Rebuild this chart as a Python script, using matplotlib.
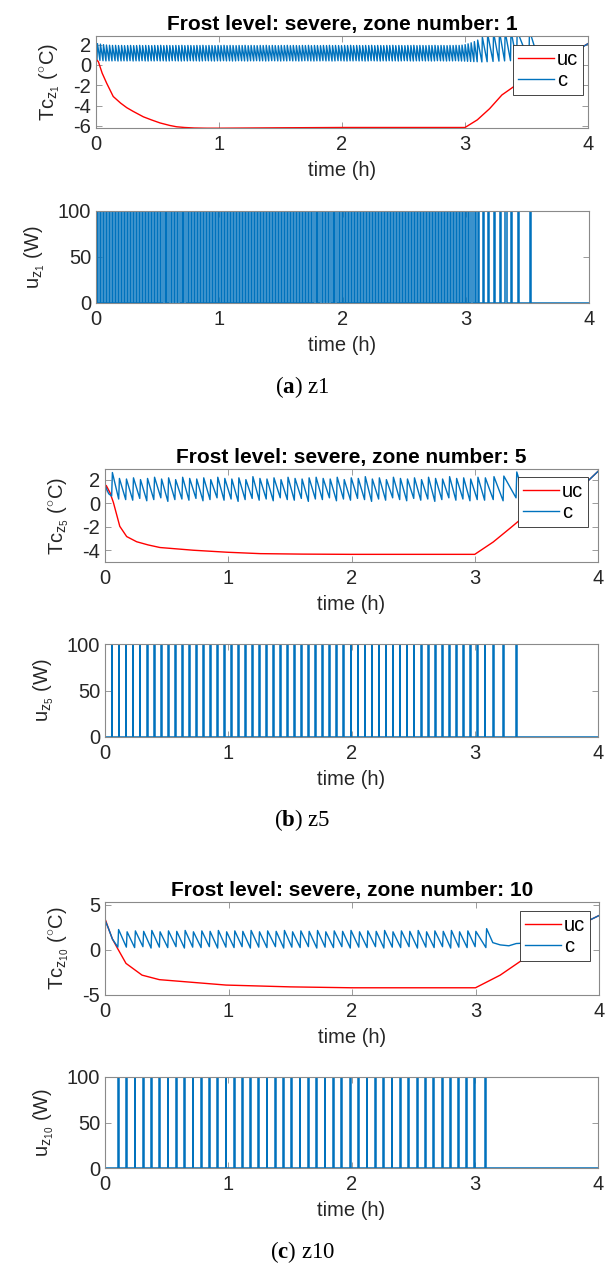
import matplotlib
matplotlib.use('Agg')
import matplotlib.pyplot as plt

plt.rcParams['font.family'] = ['Liberation Sans', 'DejaVu Sans']
plt.rcParams['axes.unicode_minus'] = False
plt.rcParams['mathtext.fontset'] = 'custom'
plt.rcParams['mathtext.rm'] = 'Liberation Sans'
plt.rcParams['mathtext.it'] = 'Liberation Sans:italic'
plt.rcParams['mathtext.bf'] = 'Liberation Serif:bold'

# ---------------- data ----------------
zones = [1, 5, 10]
captions = ['a', 'b', 'c']
x_ticks = [0, 1, 2, 3, 4]
temp_ylim = [(-6.2, 2.85), (-5.0, 2.9), (-5.0, 5.3)]
temp_yticks = [[-6, -4, -2, 0, 2], [-4, -2, 0, 2], [-5, 0, 5]]
u_yticks = [0, 50, 100]

# uncontrolled temperature (uc)
uc1_t = [0, 0.02, 0.05, 0.087, 0.14, 0.2, 0.25, 0.3, 0.385, 0.45, 0.52, 0.6, 0.655, 0.72, 0.8, 0.9, 1.0, 1.5,
         2.0, 2.5, 3.0, 3.1, 3.2, 3.3, 3.4, 3.5, 3.6, 3.7, 3.8, 3.9, 4.0]
uc1_v = [0.6, 0.3, -0.8, -1.8, -3.1, -3.75, -4.2, -4.55, -5.1, -5.4, -5.7, -5.95, -6.08, -6.15, -6.2, -6.22, -6.22,
         -6.18, -6.15, -6.15, -6.15, -5.4, -4.3, -2.95, -2.1, -1.4, -0.7, 0.0, 0.7, 1.4, 2.1]
uc5_t = [0, 0.01, 0.04, 0.068, 0.12, 0.176, 0.257, 0.35, 0.446, 0.716, 0.99, 1.26, 1.6, 2.0, 2.5, 3.0, 3.15,
         3.29, 3.37, 3.5, 3.6, 3.7, 3.8, 3.92, 4.0]
uc5_v = [0.6, 1.5, 0.9, 0.06, -1.97, -2.84, -3.28, -3.55, -3.77, -4.0, -4.17, -4.29, -4.33, -4.35, -4.35, -4.35,
         -3.3, -2.1, -1.4, -0.6, -0.1, 0.5, 1.1, 1.9, 2.7]
uc10_t = [0, 0.004, 0.03, 0.06, 0.10, 0.17, 0.30, 0.44, 0.71, 0.98, 1.5, 2.0, 2.5, 3.0, 3.1, 3.2, 3.36, 3.5,
          3.65, 3.8, 3.91, 4.0]
uc10_v = [-0.9, 3.3, 2.3, 1.2, 0.2, -1.5, -2.8, -3.3, -3.6, -3.9, -4.1, -4.2, -4.2, -4.2, -3.5, -2.8, -1.3, 0.0,
          1.2, 2.4, 3.2, 3.8]

# heater switch-on times (h)
pulse1 = [0.008, 0.032, 0.057, 0.081, 0.106, 0.130, 0.155, 0.179, 0.204, 0.228,
          0.253, 0.277, 0.302, 0.326, 0.351, 0.375, 0.400, 0.424, 0.449, 0.473,
          0.498, 0.522, 0.547, 0.571, 0.596, 0.620, 0.645, 0.669, 0.694, 0.718,
          0.743, 0.767, 0.792, 0.816, 0.841, 0.865, 0.890, 0.914, 0.939, 0.963,
          0.988, 1.012, 1.037, 1.061, 1.086, 1.110, 1.135, 1.159, 1.184, 1.208,
          1.233, 1.257, 1.282, 1.306, 1.331, 1.355, 1.380, 1.404, 1.429, 1.453,
          1.478, 1.502, 1.527, 1.551, 1.576, 1.600, 1.625, 1.649, 1.674, 1.698,
          1.723, 1.747, 1.772, 1.796, 1.821, 1.845, 1.870, 1.894, 1.919, 1.943,
          1.968, 1.992, 2.017, 2.041, 2.066, 2.090, 2.115, 2.139, 2.164, 2.188,
          2.213, 2.237, 2.262, 2.286, 2.311, 2.335, 2.360, 2.384, 2.409, 2.433,
          2.458, 2.482, 2.507, 2.531, 2.556, 2.580, 2.605, 2.629, 2.654, 2.678,
          2.703, 2.727, 2.752, 2.776, 2.801, 2.825, 2.850, 2.874, 2.899, 2.923,
          2.948, 2.972, 2.997, 3.021, 3.046, 3.072, 3.099,
          3.137, 3.180, 3.228, 3.276, 3.322, 3.370, 3.420, 3.520]
pulse5 = [0.054, 0.111, 0.168, 0.225, 0.282, 0.339, 0.396, 0.453, 0.510, 0.567,
          0.624, 0.681, 0.738, 0.795, 0.852, 0.909, 0.966, 1.023, 1.080, 1.137,
          1.194, 1.251, 1.308, 1.365, 1.422, 1.479, 1.536, 1.593, 1.650, 1.707,
          1.764, 1.821, 1.878, 1.935, 1.992, 2.049, 2.106, 2.163, 2.220, 2.277,
          2.334, 2.391, 2.448, 2.505, 2.562, 2.619, 2.676, 2.733, 2.790, 2.847,
          2.904, 2.961, 3.020, 3.080, 3.150, 3.230, 3.335]
pulse10 = [0.104, 0.173, 0.240, 0.307, 0.373, 0.440, 0.508, 0.575, 0.643, 0.710,
           0.778, 0.845, 0.912, 0.979, 1.045, 1.110, 1.177, 1.245, 1.311, 1.380,
           1.447, 1.513, 1.580, 1.647, 1.715, 1.782, 1.850, 1.918, 1.986, 2.055,
           2.122, 2.190, 2.258, 2.326, 2.394, 2.462, 2.530, 2.598, 2.665, 2.733,
           2.799, 2.865, 2.932, 2.997, 3.084]

# controlled temperature (c): value at switch-on (trough) and at switch-off (peak)
trough1 = [0.55, 0.45, 0.42, 0.40, 0.41, 0.40, 0.42, 0.39, 0.40, 0.41,
           0.40, 0.42, 0.39, 0.41, 0.40, 0.42, 0.40, 0.39, 0.41, 0.40,
           0.42, 0.40, 0.41, 0.39, 0.40, 0.42, 0.41, 0.40, 0.39, 0.41,
           0.40, 0.42, 0.40, 0.41, 0.39, 0.40, 0.42, 0.41, 0.40, 0.39,
           0.41, 0.40, 0.42, 0.40, 0.41, 0.39, 0.40, 0.42, 0.41, 0.40,
           0.39, 0.41, 0.40, 0.42, 0.40, 0.41, 0.39, 0.40, 0.42, 0.41,
           0.40, 0.39, 0.41, 0.40, 0.42, 0.40, 0.41, 0.39, 0.40, 0.42,
           0.41, 0.40, 0.39, 0.41, 0.40, 0.42, 0.40, 0.41, 0.39, 0.40,
           0.42, 0.41, 0.40, 0.39, 0.41, 0.40, 0.42, 0.40, 0.41, 0.39,
           0.40, 0.42, 0.41, 0.40, 0.39, 0.41, 0.40, 0.42, 0.40, 0.41,
           0.39, 0.40, 0.42, 0.41, 0.40, 0.39, 0.41, 0.40, 0.42, 0.40,
           0.41, 0.39, 0.40, 0.42, 0.41, 0.40, 0.39, 0.41, 0.40, 0.42,
           0.40, 0.39, 0.38, 0.36, 0.35, 0.33, 0.32,
           0.30, 0.32, 0.35, 0.38, 0.40, 0.42, 0.45, 0.40]
peak1 = [2.10, 2.05, 2.00, 1.96, 1.94, 1.92, 1.93, 1.91, 1.92, 1.90,
         1.91, 1.92, 1.90, 1.91, 1.93, 1.90, 1.92, 1.91, 1.90, 1.92,
         1.91, 1.93, 1.90, 1.92, 1.91, 1.90, 1.92, 1.91, 1.93, 1.90,
         1.92, 1.91, 1.90, 1.92, 1.91, 1.93, 1.90, 1.92, 1.91, 1.90,
         1.92, 1.91, 1.93, 1.90, 1.92, 1.91, 1.90, 1.92, 1.91, 1.93,
         1.90, 1.92, 1.91, 1.90, 1.92, 1.91, 1.93, 1.90, 1.92, 1.91,
         1.90, 1.92, 1.91, 1.93, 1.90, 1.92, 1.91, 1.90, 1.92, 1.91,
         1.93, 1.90, 1.92, 1.91, 1.90, 1.92, 1.91, 1.93, 1.90, 1.92,
         1.91, 1.90, 1.92, 1.91, 1.93, 1.90, 1.92, 1.91, 1.90, 1.92,
         1.91, 1.93, 1.90, 1.92, 1.91, 1.90, 1.92, 1.91, 1.93, 1.90,
         1.92, 1.91, 1.90, 1.92, 1.91, 1.93, 1.90, 1.92, 1.91, 1.90,
         1.92, 1.91, 1.93, 1.90, 1.92, 1.91, 1.90, 1.92, 1.91, 1.93,
         1.92, 1.95, 2.00, 2.08, 2.18, 2.30, 2.45,
         2.75, 3.05, 3.20, 3.30, 3.30, 3.35, 3.35, 3.40]
trough5 = [0.60, 0.35, 0.30, 0.25, 0.40, 0.20, 0.30, 0.45, 0.15, 0.30,
           0.35, 0.25, 0.40, 0.20, 0.30, 0.45, 0.25, 0.35, 0.15, 0.30,
           0.40, 0.25, 0.35, 0.20, 0.45, 0.30, 0.25, 0.40, 0.15, 0.35,
           0.30, 0.45, 0.20, 0.35, 0.25, 0.40, 0.30, 0.15, 0.35, 0.25,
           0.45, 0.30, 0.20, 0.40, 0.25, 0.35, 0.15, 0.30, 0.45, 0.25,
           0.35, 0.20, 0.30, 0.25, 0.30, 0.20, 0.45]
peak5 = [2.60, 2.10, 2.05, 2.15, 2.00, 2.10, 2.20, 2.05, 2.15, 2.00,
         2.20, 2.10, 2.05, 2.15, 2.00, 2.20, 2.10, 2.05, 2.15, 2.00,
         2.25, 2.10, 2.05, 2.15, 2.00, 2.20, 2.10, 2.05, 2.15, 2.20,
         2.10, 2.05, 2.20, 2.00, 2.15, 2.10, 2.25, 2.05, 2.15, 2.00,
         2.20, 2.10, 2.05, 2.15, 2.00, 2.20, 2.10, 2.05, 2.25, 2.10,
         2.15, 2.05, 2.20, 2.15, 2.25, 2.30, 2.65]
trough10 = [0.30, 0.30, 0.25, 0.35, 0.20, 0.30, 0.25, 0.35, 0.20, 0.30,
            0.25, 0.35, 0.20, 0.30, 0.25, 0.35, 0.20, 0.30, 0.25, 0.35,
            0.20, 0.30, 0.25, 0.35, 0.20, 0.30, 0.25, 0.35, 0.20, 0.30,
            0.25, 0.35, 0.20, 0.30, 0.25, 0.35, 0.20, 0.30, 0.25, 0.35,
            0.20, 0.30, 0.25, 0.35, 0.25]
peak10 = [2.25, 2.00, 2.10, 2.05, 2.15, 2.00, 2.10, 2.05, 2.15, 2.00,
          2.10, 2.05, 2.15, 2.00, 2.10, 2.05, 2.15, 2.00, 2.10, 2.05,
          2.15, 2.00, 2.10, 2.05, 2.15, 2.00, 2.10, 2.05, 2.15, 2.00,
          2.10, 2.05, 2.15, 2.00, 2.10, 2.05, 2.15, 2.00, 2.10, 2.05,
          2.15, 2.00, 2.10, 2.05, 2.35]
# c before the first / after the last switching
cpre1_t, cpre1_v = [0.0], [0.5]
cpost1_t = [3.58, 3.65, 3.75, 3.85, 3.92, 4.0]
cpost1_v = [1.2, 0.7, 0.6, 1.0, 1.5, 2.1]
cpre5_t, cpre5_v = [0.0, 0.03], [1.5, 0.8]
cpost5_t = [3.38, 3.45, 3.55, 3.65, 3.72, 3.8, 3.92, 4.0]
cpost5_v = [1.3, 0.8, 0.6, 0.55, 0.6, 1.1, 1.9, 2.7]
cpre10_t, cpre10_v = [0.0, 0.03, 0.06], [3.3, 2.3, 1.2]
cpost10_t = [3.14, 3.2, 3.27, 3.33, 3.4, 3.5, 3.6, 3.7, 3.8, 3.91, 4.0]
cpost10_v = [0.8, 0.55, 0.45, 0.7, 0.75, 0.7, 0.9, 1.6, 2.4, 3.2, 3.8]

u_on = 100
pulse_width = [0.009, 0.006, 0.006]
rise_time = [0.004, 0.006, 0.006]

# ---------------- figure ----------------
W, H = 605, 1275
fig = plt.figure(figsize=(W / 100, H / 100), dpi=100)

def ax_px(l, t, r, b):
    return fig.add_axes([l / W, 1 - b / H, (r - l) / W, (b - t) / H])

temp_boxes = [(96, 36, 588, 128), (105, 469, 598, 562), (105, 902, 599, 995)]
u_boxes = [(96, 211, 589, 303), (105, 644, 598, 737), (105, 1077, 598, 1168)]
leg_anchor = [(1 - 5 / 492, 1 - 9 / 92), (1 - 10 / 493, 1 - 8 / 93), (1 - 9 / 494, 1 - 9 / 93)]
caption_y = [387, 820, 1252]

RED = '#ff0000'
BLUE = '#0072bd'
EDGE = '#8a8a8a'
TXT = '#262626'
FS = 14.5

def style(ax, yticks, ylim):
    ax.set_xlim(0, 4)
    ax.set_ylim(*ylim)
    ax.set_xticks(x_ticks)
    ax.set_yticks(yticks)
    ax.tick_params(direction='in', length=4, width=0.6, top=True, right=True,
                   labelsize=FS, colors=EDGE, labelcolor=TXT)
    ax.tick_params(axis='x', pad=5)
    ax.tick_params(axis='y', pad=3.5)
    for s in ax.spines.values():
        s.set_color(EDGE)
        s.set_linewidth(0.8)
    ax.set_xlabel('time (h)', fontsize=FS, color=TXT, labelpad=5)

data = [
    (uc1_t, uc1_v, pulse1, trough1, peak1, cpre1_t, cpre1_v, cpost1_t, cpost1_v),
    (uc5_t, uc5_v, pulse5, trough5, peak5, cpre5_t, cpre5_v, cpost5_t, cpost5_v),
    (uc10_t, uc10_v, pulse10, trough10, peak10, cpre10_t, cpre10_v, cpost10_t, cpost10_v),
]

for i, (uct, ucv, pulses, trs, pks, prt, prv, pot, pov) in enumerate(data):
    z = zones[i]
    # temperature panel
    ax = ax_px(*temp_boxes[i])
    ct, cv = list(prt), list(prv)
    for p, tr, pk in zip(pulses, trs, pks):
        ct += [p, p + rise_time[i]]
        cv += [tr, pk]
    ct += pot
    cv += pov
    l1, = ax.plot(uct, ucv, color=RED, lw=1.0)
    l2, = ax.plot(ct, cv, color=BLUE, lw=1.0)
    style(ax, temp_yticks[i], temp_ylim[i])
    ax.set_title(f'Frost level: severe, zone number: {z}', fontsize=15,
                 fontweight='bold', color='black', pad=4)
    ax.set_ylabel(r'Tc$_{\mathrm{z}_{' + str(z) + r'}}$ ($^{\circ}$C)', fontsize=FS, color=TXT, labelpad=8)
    leg = ax.legend([l1, l2], ['uc', 'c'], loc='upper right', bbox_to_anchor=leg_anchor[i],
                    borderaxespad=0, fontsize=FS, frameon=True, fancybox=False, framealpha=1,
                    edgecolor=TXT, handlelength=1.8, handletextpad=0.12, borderpad=0.25,
                    labelspacing=0.12)
    leg.get_frame().set_linewidth(0.6)
    for t in leg.get_texts():
        t.set_color('black')

    # heating power panel
    ax2 = ax_px(*u_boxes[i])
    ut, uv = [0.0], [0.0]
    for p in pulses:
        ut += [p, p, p + pulse_width[i], p + pulse_width[i]]
        uv += [0, u_on, u_on, 0]
    ut.append(4.0)
    uv.append(0.0)
    ax2.plot(ut, uv, color=BLUE, lw=1.1)
    style(ax2, u_yticks, (0, 100))
    ax2.set_ylabel(r'u$_{\mathrm{z}_{' + str(z) + r'}}$ (W)', fontsize=FS, color=TXT, labelpad=8)

    fig.text(0.5, 1 - caption_y[i] / H, r'($\mathbf{' + captions[i] + r'}$) z' + str(z),
             ha='center', va='center', fontsize=16.5, family=['Liberation Serif'], color='black')

fig.savefig('out.png', dpi=100)
